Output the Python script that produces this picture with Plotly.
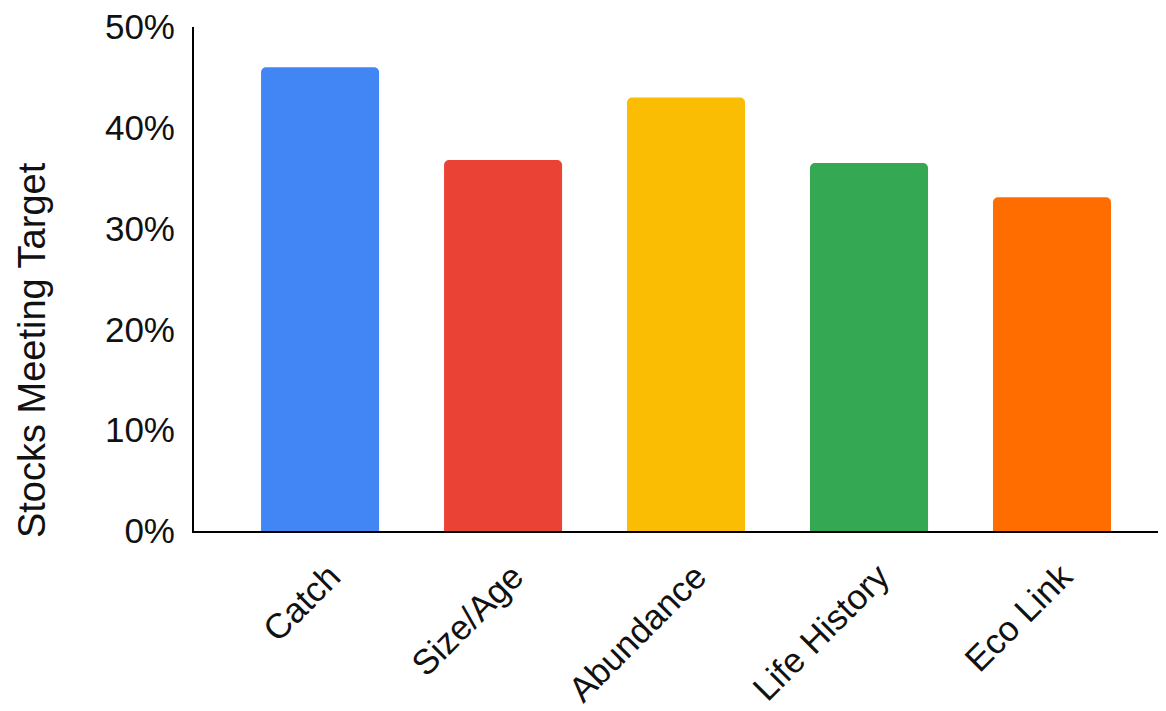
import plotly.graph_objects as go

categories = ["Catch", "Size/Age", "Abundance", "Life History", "Eco Link"]
values = [46.0, 36.8, 43.0, 36.5, 33.1]
colors = ["#4285F4", "#EA4335", "#FBBC04", "#34A853", "#FF6D01"]
y_ticks = [0, 10, 20, 30, 40, 50]
y_title = "Stocks Meeting Target"

fig = go.Figure(
    go.Bar(
        x=categories,
        y=values,
        marker=dict(color=colors, line=dict(width=0), cornerradius=5),
        width=0.645,
    )
)

font = "Liberation Sans, Arial, sans-serif"
txt = "#111111"
fig.update_layout(
    width=1166,
    height=711,
    margin=dict(l=186, r=8, t=19, b=188),
    paper_bgcolor="white",
    plot_bgcolor="white",
    showlegend=False,
    font=dict(family=font, color=txt),
    annotations=[
        dict(
            text=y_title,
            xref="paper",
            yref="paper",
            x=-0.1667,
            y=0.359,
            xanchor="center",
            yanchor="middle",
            textangle=-90,
            showarrow=False,
            font=dict(size=38, family=font, color=txt),
        )
    ],
)
fig.update_xaxes(
    range=[-0.689, 4.623],
    tickangle=-45,
    tickfont=dict(size=35, family=font, color=txt),
    showline=True,
    linecolor="black",
    linewidth=2,
    showgrid=False,
    ticks="",
    ticklabelstandoff=9,
    ticklabelshift=10,
    ticklabeloverflow="allow",
    automargin=False,
)
fig.update_yaxes(
    range=[0, 50],
    tickvals=y_ticks,
    ticktext=[f"{v}%" for v in y_ticks],
    tickfont=dict(size=35, family=font, color=txt),
    showline=True,
    linecolor="black",
    linewidth=2,
    showgrid=False,
    zeroline=False,
    ticks="",
    ticklabelstandoff=10,
    ticklabeloverflow="allow",
    automargin=False,
)

fig.write_html("out.html")
